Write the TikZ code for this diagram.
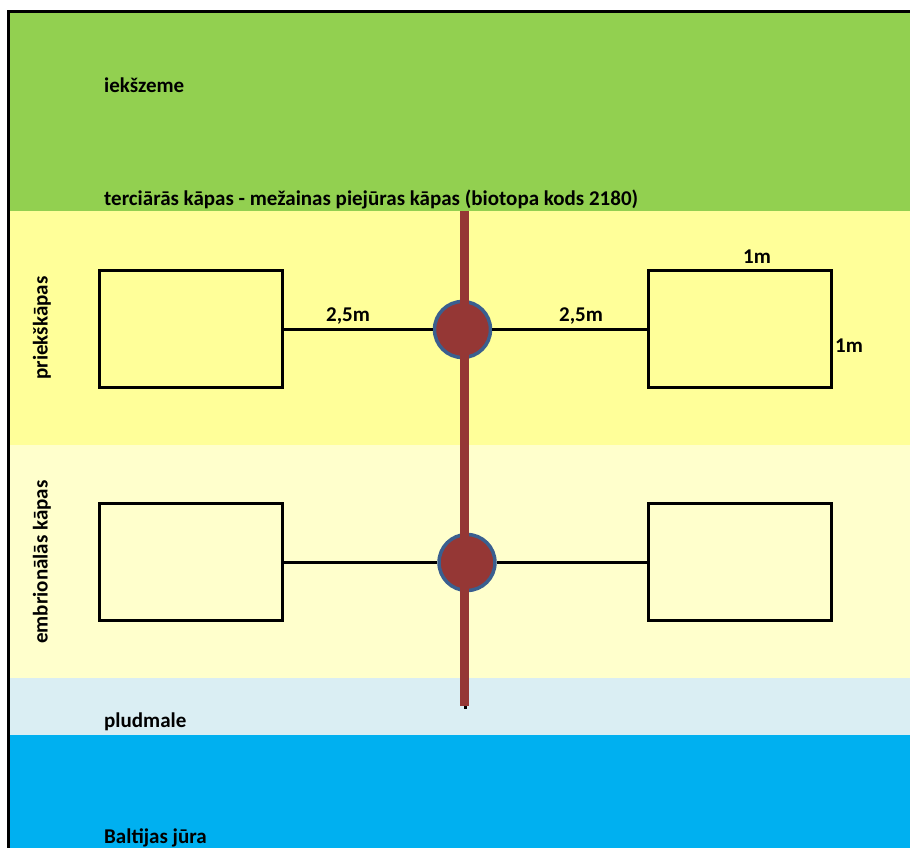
\documentclass[tikz,border=0pt]{standalone}
\usepackage{fontspec}
\setmainfont{Carlito}
\definecolor{land}{HTML}{92D050}
\definecolor{fore}{HTML}{FFFF99}
\definecolor{embr}{HTML}{FFFFCC}
\definecolor{beach}{HTML}{DAEEF3}
\definecolor{sea}{HTML}{00B0F0}
\definecolor{pole}{HTML}{953735}
\definecolor{ring}{HTML}{3A5F8F}
\tikzset{
  lbl/.style={font=\bfseries\fontsize{21}{24}\selectfont, inner sep=0pt},
  plot/.style={draw=black, line width=3pt, minimum width=183pt, minimum height=117pt, inner sep=0pt},
  link/.style={draw=black, line width=2.4pt},
  post/.style={circle, fill=pole, draw=ring, line width=3.5pt, minimum size=56pt, inner sep=0pt},
}
\begin{document}
\begin{tikzpicture}[x=1pt,y=-1pt]
\useasboundingbox (0,0) rectangle (910,848);
% bands
\fill[land]  (8,12) rectangle (910,211);
\fill[fore]  (8,211) rectangle (910,445);
\fill[embr]  (8,445) rectangle (910,678);
\fill[beach] (8,678) rectangle (910,735);
\fill[sea]   (8,735) rectangle (910,848);
% frame
\draw[line width=3pt] (8,848) -- (8,12) -- (910,12);
% plots
\node[plot] (p1) at (190.5,328.5) {};
\node[plot] (p2) at (739.5,328.5) {};
\node[plot] (p3) at (190.5,561.5) {};
\node[plot] (p4) at (739.5,561.5) {};
% pole
\coordinate (ptop) at (464.5,211);
\coordinate (pbot) at (464.5,706);
\node[post] (c1) at (462.5,329.5) {};
\node[post] (c2) at (467,562.5) {};
\draw[link] (p1.east |- c1) -- (c1);
\draw[link] (c1) -- (p2.west |- c1);
\draw[link] (p3.east |- c2) -- (c2);
\draw[link] (c2) -- (p4.west |- c2);
\draw[pole, line width=9pt] (ptop) -- (pbot);
\fill[black] (463.5,706) rectangle (466.5,709);
% labels
\node[lbl, anchor=west] (t1) at (104,85) {iekšzeme};
\node[lbl, anchor=west] (t2) at (104,199) {terciārās kāpas - mežainas piejūras kāpas (biotopa kods 2180)};
\node[lbl, anchor=west] (t3) at (104,722) {pludmale};
\node[lbl, anchor=west] (t4) at (104,838) {Baltijas jūra};
\node[lbl, rotate=90] (t5) at (42,328) {priekškāpas};
\node[lbl, rotate=90] (t6) at (42,562) {embrionālās kāpas};
\node[lbl] (d1) at (348,316) {2,5m};
\node[lbl] (d2) at (581,316) {2,5m};
\node[lbl] (d3) at (757,257) {1m};
\node[lbl] (d4) at (849,346) {1m};
\end{tikzpicture}
\end{document}
